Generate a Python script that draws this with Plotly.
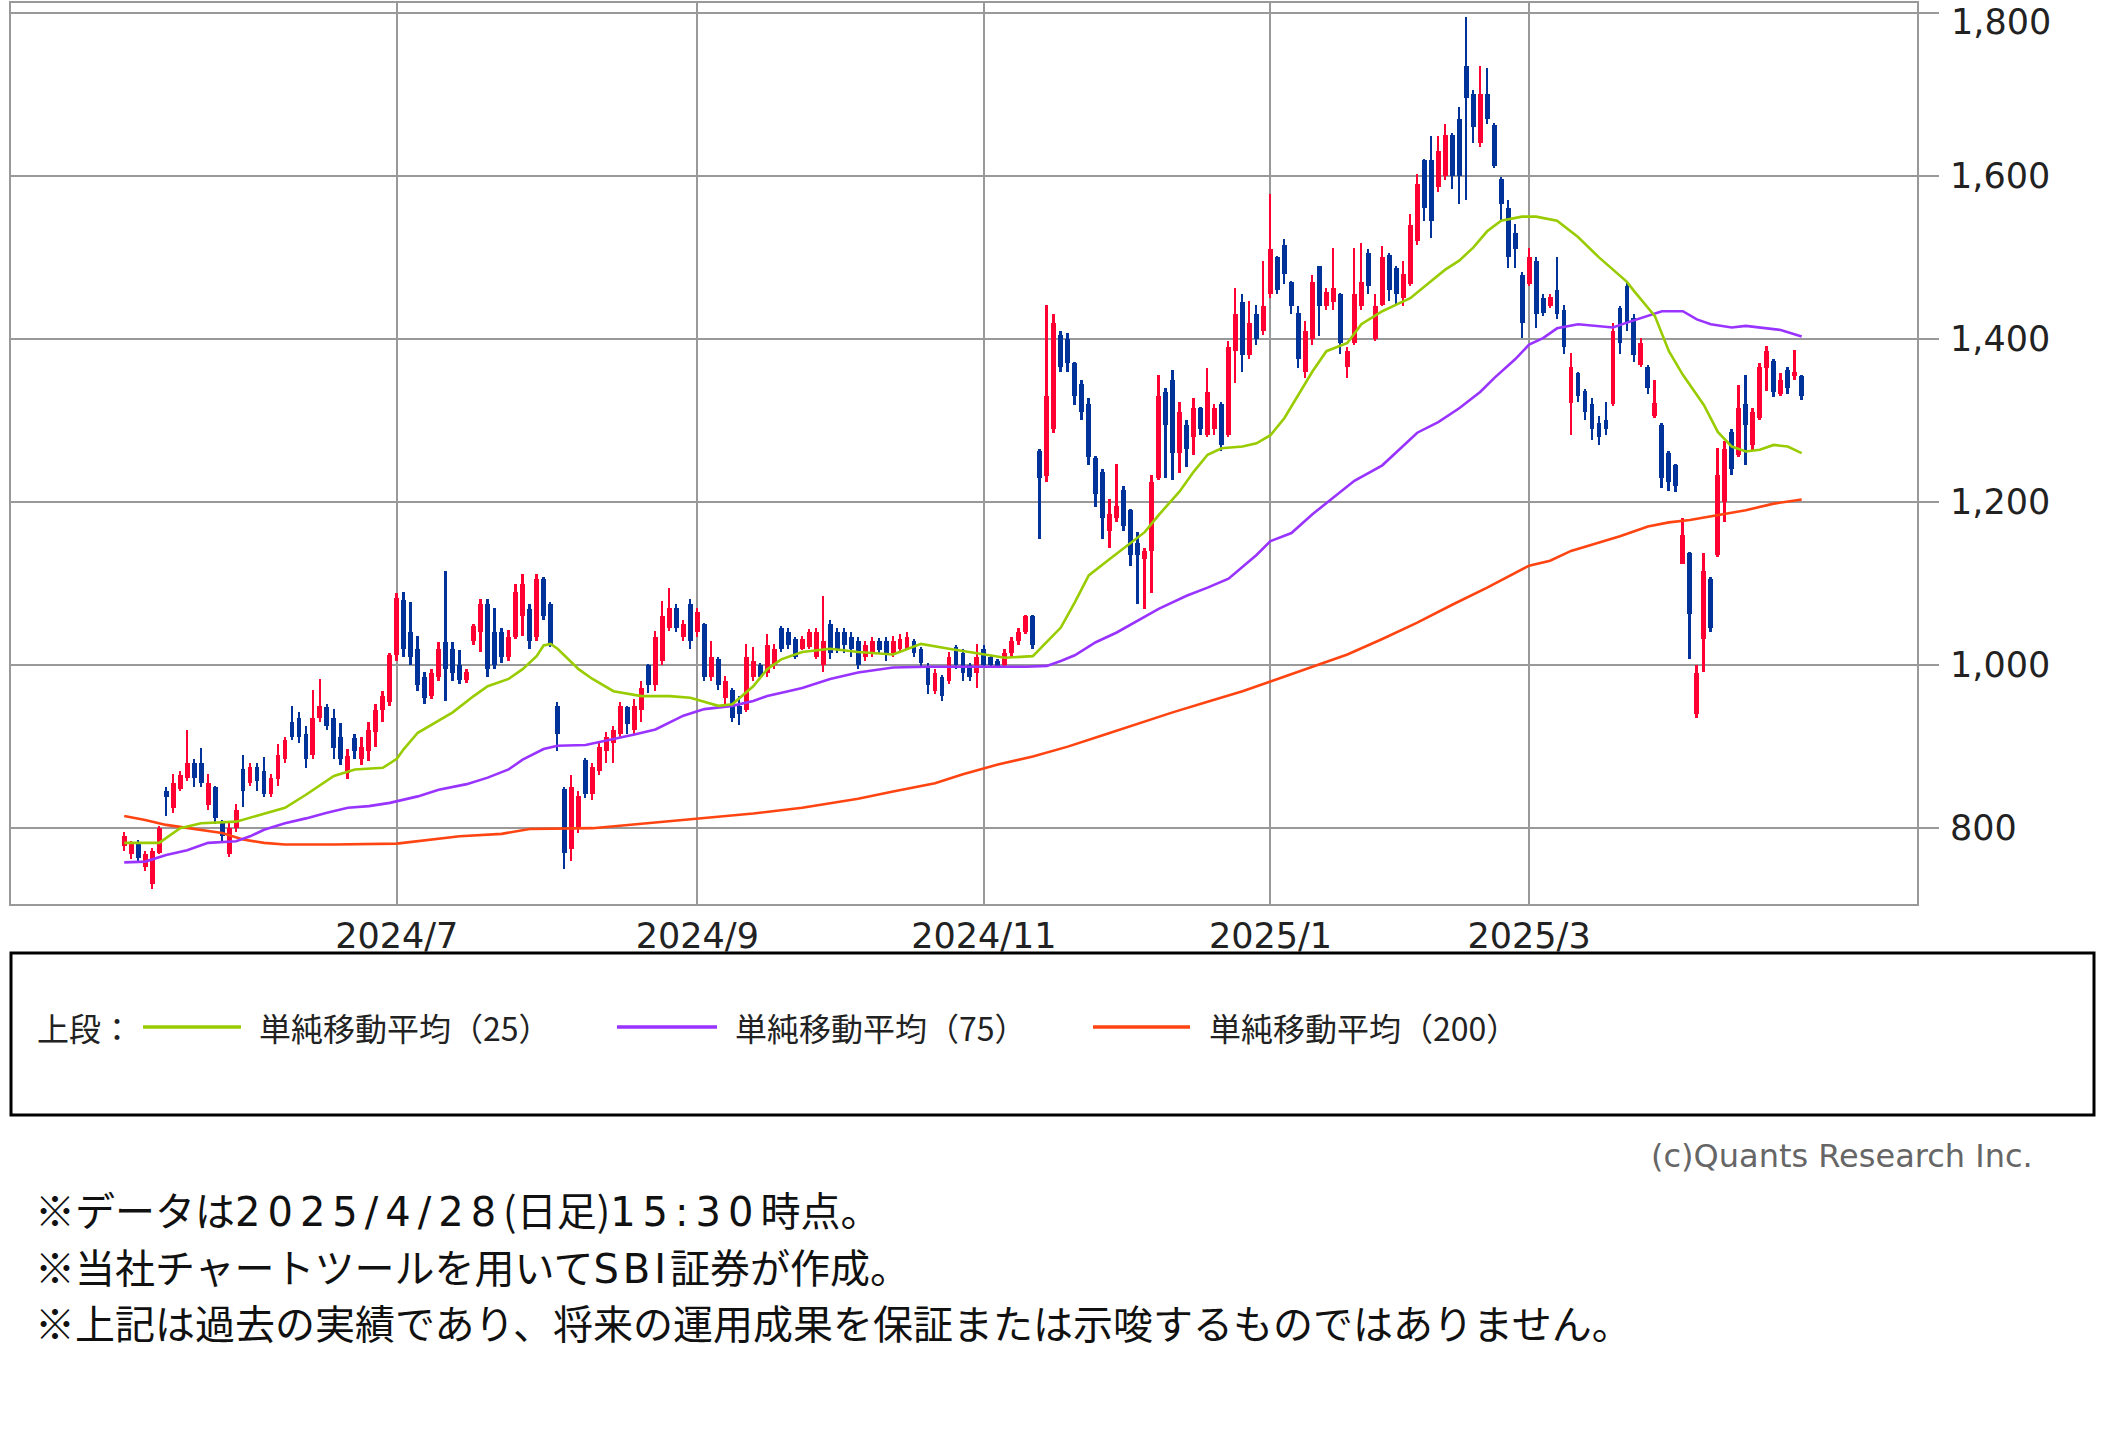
import pandas as pd
import plotly.graph_objects as go

# ---------------- data ----------------
HOLIDAYS = ["2024-07-15", "2024-08-12", "2024-09-16", "2024-09-23", "2024-10-14",
            "2024-11-04", "2024-12-31", "2025-01-01", "2025-01-02", "2025-01-03",
            "2025-01-13", "2025-02-11", "2025-02-24", "2025-03-20"]
START_DATE = "2024-05-07"
END_DATE = "2025-04-28"

TICK_MONTHS = ["2024-07", "2024-09", "2024-11", "2025-01", "2025-03"]
TICK_TEXT = ["2024/7", "2024/9", "2024/11", "2025/1", "2025/3"]
Y_TICKS = [800, 1000, 1200, 1400, 1600, 1800]

OPEN = [778, 768, 782, 752, 732, 770, 845, 825, 848, 862, 880, 880, 828, 850, 808, 768, 800, 872, 855, 875,
        870, 842, 860, 885, 930, 935, 915, 890, 935, 948, 935, 912, 868, 910, 885, 895, 918, 945, 955, 1012,
        1080, 1040, 1020, 985, 962, 985, 1028, 1020, 1000, 982, 1030, 1040, 1075, 1040, 1040, 1010, 1035, 1060, 1069, 1035,
        1106, 1075, 950, 848, 775, 800, 884, 842, 870, 895, 905, 915, 948, 920, 945, 1000, 975, 1005, 1045, 1070,
        1035, 1075, 1040, 1050, 985, 1007, 960, 970, 950, 945, 985, 1000, 990, 1000, 1046, 1040, 1032, 1020, 1022, 1010,
        1000, 1050, 1040, 1040, 1035, 1030, 1010, 1015, 1030, 1030, 1015, 1020, 1020, 1030, 1020, 999, 968, 985, 980, 1022,
        1015, 1000, 990, 1020, 1010, 1005, 1000, 1015, 1030, 1040, 1060, 1262, 1232, 1290, 1405, 1400, 1370, 1345, 1320, 1254,
        1237, 1165, 1180, 1215, 1190, 1150, 1130, 1140, 1230, 1335, 1350, 1260, 1295, 1280, 1315, 1282, 1290, 1320, 1282, 1385,
        1445, 1380, 1430, 1410, 1455, 1500, 1515, 1470, 1432, 1360, 1400, 1489, 1440, 1445, 1455, 1365, 1395, 1440, 1506, 1400,
        1442, 1503, 1487, 1450, 1467, 1520, 1620, 1620, 1586, 1600, 1650, 1670, 1735, 1700, 1640, 1700, 1662, 1596, 1560, 1530,
        1479, 1467, 1495, 1450, 1440, 1460, 1435, 1322, 1358, 1336, 1320, 1297, 1300, 1320, 1438, 1465, 1426, 1368, 1366, 1305,
        1295, 1260, 1245, 1124, 1137, 940, 1032, 1106, 1135, 1200, 1286, 1258, 1320, 1270, 1303, 1364, 1373, 1332, 1362, 1354,
        1354]
HIGH = [795, 784, 786, 772, 776, 803, 850, 866, 870, 920, 885, 898, 866, 852, 810, 806, 830, 890, 880, 880,
        887, 866, 903, 912, 950, 942, 925, 970, 983, 952, 946, 929, 897, 915, 912, 930, 952, 968, 1015, 1088,
        1090, 1077, 1036, 991, 995, 1028, 1116, 1028, 1019, 995, 1050, 1081, 1081, 1070, 1046, 1043, 1100, 1112, 1075, 1112,
        1108, 1077, 955, 850, 865, 845, 886, 880, 905, 918, 925, 955, 950, 958, 980, 1001, 1042, 1078, 1094, 1075,
        1055, 1081, 1070, 1052, 1030, 1010, 987, 972, 962, 1026, 1022, 1002, 1038, 1026, 1048, 1046, 1034, 1036, 1044, 1046,
        1085, 1055, 1045, 1045, 1040, 1035, 1030, 1035, 1033, 1035, 1036, 1038, 1040, 1032, 1022, 1002, 995, 988, 1016, 1025,
        1020, 1003, 1026, 1025, 1012, 1008, 1020, 1035, 1045, 1062, 1062, 1265, 1442, 1430, 1410, 1407, 1372, 1350, 1328, 1256,
        1240, 1204, 1247, 1220, 1192, 1163, 1143, 1233, 1356, 1340, 1362, 1323, 1300, 1327, 1317, 1364, 1320, 1323, 1397, 1463,
        1455, 1446, 1442, 1496, 1578, 1502, 1522, 1471, 1440, 1422, 1479, 1490, 1462, 1512, 1456, 1390, 1512, 1518, 1510, 1455,
        1514, 1505, 1490, 1495, 1553, 1602, 1621, 1649, 1649, 1664, 1652, 1684, 1795, 1705, 1735, 1732, 1665, 1598, 1571, 1541,
        1482, 1512, 1500, 1455, 1455, 1500, 1442, 1383, 1360, 1338, 1327, 1305, 1323, 1420, 1440, 1469, 1430, 1401, 1368, 1350,
        1297, 1262, 1247, 1180, 1139, 1000, 1137, 1108, 1266, 1275, 1290, 1344, 1356, 1315, 1370, 1391, 1375, 1358, 1365, 1387,
        1356]
LOW = [772, 762, 758, 748, 726, 768, 815, 818, 845, 858, 850, 850, 822, 805, 784, 765, 795, 826, 852, 845,
       838, 838, 852, 880, 908, 905, 874, 885, 930, 920, 885, 878, 860, 885, 878, 882, 900, 930, 950, 1005,
       1010, 1000, 968, 952, 958, 980, 956, 980, 977, 978, 1025, 1016, 985, 995, 1003, 1005, 1032, 1036, 1020, 1030,
       1055, 1022, 895, 750, 760, 794, 837, 835, 865, 880, 880, 910, 915, 915, 930, 966, 968, 1000, 1042, 1040,
       1030, 1020, 1035, 981, 980, 970, 948, 930, 927, 942, 980, 983, 985, 995, 1016, 1020, 1007, 1018, 1020, 1007,
       991, 1007, 1015, 1015, 1010, 995, 1005, 1010, 1015, 1005, 1010, 1015, 1018, 1010, 998, 964, 965, 956, 977, 995,
       980, 980, 972, 996, 996, 996, 998, 1010, 1025, 1038, 1020, 1155, 1225, 1285, 1360, 1360, 1319, 1300, 1245, 1194,
       1155, 1143, 1175, 1165, 1122, 1075, 1069, 1089, 1227, 1229, 1227, 1235, 1243, 1258, 1282, 1280, 1282, 1262, 1280, 1346,
       1360, 1375, 1393, 1405, 1450, 1455, 1467, 1430, 1364, 1352, 1393, 1403, 1435, 1436, 1381, 1352, 1393, 1435, 1455, 1397,
       1440, 1446, 1442, 1440, 1465, 1515, 1545, 1524, 1580, 1595, 1584, 1565, 1571, 1640, 1635, 1664, 1610, 1545, 1487, 1487,
       1401, 1465, 1414, 1428, 1438, 1424, 1381, 1282, 1323, 1300, 1276, 1270, 1282, 1318, 1381, 1410, 1372, 1365, 1332, 1303,
       1217, 1214, 1212, 1124, 1007, 935, 992, 1040, 1133, 1175, 1233, 1255, 1245, 1262, 1300, 1336, 1329, 1330, 1333, 1350,
       1325]
CLOSE = [790, 780, 764, 768, 772, 800, 838, 855, 865, 880, 862, 856, 855, 812, 790, 800, 822, 845, 875, 858,
         842, 862, 890, 908, 912, 912, 885, 935, 950, 925, 898, 885, 888, 895, 900, 920, 945, 962, 1012, 1082,
         1020, 1010, 975, 960, 990, 1020, 995, 990, 982, 991, 1048, 1075, 995, 1000, 1010, 1035, 1090, 1100, 1030, 1105,
         1060, 1025, 915, 770, 850, 840, 842, 875, 900, 912, 920, 950, 928, 950, 972, 975, 1035, 1060, 1070, 1045,
         1050, 1030, 1065, 985, 1010, 975, 980, 935, 940, 1010, 1005, 985, 1025, 1020, 1020, 1025, 1010, 1032, 1040, 1040,
         1030, 1015, 1020, 1025, 1020, 1000, 1025, 1030, 1018, 1012, 1030, 1032, 1035, 1015, 1002, 975, 990, 962, 1010, 1000,
         990, 985, 1010, 1000, 1000, 999, 1015, 1030, 1040, 1060, 1025, 1230, 1330, 1420, 1365, 1370, 1330, 1310, 1255, 1210,
         1180, 1185, 1195, 1170, 1135, 1135, 1140, 1225, 1330, 1295, 1260, 1310, 1265, 1315, 1290, 1335, 1315, 1270, 1390, 1430,
         1380, 1420, 1400, 1440, 1510, 1460, 1480, 1440, 1375, 1410, 1470, 1440, 1458, 1462, 1395, 1385, 1455, 1470, 1465, 1440,
         1500, 1460, 1455, 1480, 1540, 1590, 1560, 1545, 1630, 1650, 1600, 1600, 1695, 1660, 1700, 1670, 1612, 1565, 1500, 1510,
         1420, 1500, 1430, 1432, 1452, 1430, 1390, 1365, 1330, 1310, 1290, 1280, 1290, 1410, 1395, 1420, 1380, 1395, 1340, 1322,
         1230, 1225, 1220, 1160, 1063, 990, 1115, 1045, 1233, 1265, 1240, 1315, 1295, 1310, 1365, 1385, 1335, 1350, 1340, 1360,
         1330]

# moving averages: (trading-day index, value)
MA25_IDX = [0, 5, 8, 11, 16, 19, 23, 26, 30, 33, 37, 39, 40, 42, 44, 47, 50, 52, 55, 57, 59, 60, 61, 62, 65, 67,
            70, 74, 78, 81, 85, 87, 90, 92, 94, 97, 101, 105, 110, 114, 118, 123, 126, 130, 131, 134, 136, 138,
            141, 143, 146, 148, 151, 153, 155, 157, 160, 162, 164, 166, 168, 170, 172, 175, 177, 180, 182, 184,
            187, 189, 191, 193, 195, 197, 200, 202, 205, 208, 211, 215, 216, 219, 221, 223, 226, 228, 230, 232,
            234, 236, 238, 240]
MA25_VAL = [782, 782, 800, 806, 808, 815, 825, 841, 864, 872, 874, 885, 897, 917, 927, 942, 962, 974, 983, 995,
            1011, 1024, 1026, 1020, 995, 983, 968, 962, 962, 960, 950, 952, 974, 995, 1007, 1016, 1020, 1016, 1013,
            1026, 1020, 1013, 1009, 1011, 1020, 1046, 1077, 1110, 1130, 1143, 1163, 1184, 1213, 1237, 1258, 1266,
            1268, 1272, 1282, 1303, 1332, 1360, 1385, 1395, 1418, 1434, 1442, 1450, 1471, 1485, 1496, 1512, 1532,
            1545, 1550, 1550, 1545, 1525, 1500, 1470, 1459, 1428, 1385, 1356, 1319, 1286, 1268, 1262, 1264, 1270,
            1268, 1260]
MA75_IDX = [0, 3, 6, 9, 12, 16, 18, 20, 23, 26, 29, 32, 35, 38, 42, 45, 49, 52, 55, 57, 60, 62, 66, 71, 73, 76,
            78, 80, 83, 85, 87, 90, 92, 95, 97, 101, 105, 110, 115, 122, 129, 132, 134, 136, 139, 142, 146, 148,
            152, 155, 158, 162, 164, 167, 170, 173, 176, 180, 185, 188, 191, 194, 196, 199, 201, 203, 205, 208,
            213, 215, 218, 220, 223, 225, 227, 230, 232, 234, 237, 240]
MA75_VAL = [758, 759, 767, 773, 782, 784, 790, 798, 806, 812, 819, 825, 827, 831, 839, 847, 854, 862, 872, 884,
            897, 901, 902, 911, 915, 921, 929, 938, 946, 948, 950, 956, 962, 968, 972, 983, 991, 997, 998, 998,
            998, 999, 1005, 1012, 1028, 1040, 1059, 1069, 1085, 1095, 1106, 1135, 1152, 1162, 1185, 1205, 1226,
            1245, 1285, 1298, 1315, 1335, 1352, 1375, 1393, 1401, 1413, 1418, 1414, 1420, 1428, 1434, 1434, 1424,
            1418, 1414, 1416, 1414, 1411, 1403]
MA200_IDX = [0, 3, 6, 11, 14, 17, 20, 23, 30, 39, 42, 48, 54, 58, 67, 75, 82, 90, 97, 105, 110, 116, 120, 125,
             130, 135, 140, 145, 150, 155, 160, 164, 170, 175, 180, 185, 190, 195, 201, 204, 207, 211, 214, 218,
             221, 224, 228, 232, 236, 240]
MA200_VAL = [815, 810, 804, 798, 794, 786, 782, 780, 780, 781, 784, 790, 793, 799, 800, 806, 812, 818, 825, 836,
             845, 855, 866, 878, 888, 900, 914, 928, 942, 955, 968, 980, 998, 1013, 1032, 1052, 1074, 1095, 1122,
             1128, 1140, 1150, 1158, 1170, 1175, 1178, 1184, 1190, 1198, 1203]

LEGEND_LABELS = ["単純移動平均（25）", "単純移動平均（75）", "単純移動平均（200）"]
SP7 = "<span style='font-family:DejaVu Sans;letter-spacing:7px'>"
SP3 = "<span style='font-family:DejaVu Sans;letter-spacing:4px'>"
NOTES = ["※データは" + SP7 + "2025/4/28</span>(日足)" + SP7 + "15:30</span>時点。",
         "※当社チャートツールを用いて" + SP3 + "SBI</span>証券が作成。",
         "※上記は過去の実績であり、将来の運用成果を保証または示唆するものではありません。"]

# ---------------- build ----------------
days = pd.bdate_range(START_DATE, END_DATE, freq="C", holidays=HOLIDAYS)
dates = [d.strftime("%Y-%m-%d") for d in days]
assert len(dates) == len(OPEN) == len(HIGH) == len(LOW) == len(CLOSE), (len(dates), len(OPEN))

tick_vals = [next(d for d in dates if d.startswith(m)) for m in TICK_MONTHS]

UP = "#FF0033"
DOWN = "#003399"
C25, C75, C200 = "#99CC00", "#9933FF", "#FF4411"
GRID = "#999999"
FONT_TICK = "DejaVu Sans, Noto Sans CJK JP"
FONT_JP = "Noto Sans CJK JP"

colors = [UP if c >= o else DOWN for o, c in zip(OPEN, CLOSE)]

fig = go.Figure()
fig.add_trace(go.Bar(x=dates, y=[h - l for h, l in zip(HIGH, LOW)], base=LOW, width=0.26,
                     marker=dict(color=colors, line=dict(width=0)), showlegend=False, hoverinfo="skip"))
fig.add_trace(go.Bar(x=dates, y=[c - o for o, c in zip(OPEN, CLOSE)], base=OPEN, width=0.7,
                     marker=dict(color=colors, line=dict(width=0)), showlegend=False,
                     customdata=list(zip(OPEN, HIGH, LOW, CLOSE))))

for idx, val, col in [(MA200_IDX, MA200_VAL, C200), (MA75_IDX, MA75_VAL, C75), (MA25_IDX, MA25_VAL, C25)]:
    fig.add_trace(go.Scatter(x=[dates[i] for i in idx], y=val, mode="lines",
                             line=dict(color=col, width=2.6), showlegend=False, hoverinfo="skip"))

W, H = 2102, 1430
L, R, T, B = 11, 1917, 3, 904
def px(X):
    return (X - L) / (R - L)
def py(Y):
    return (B - Y) / (B - T)

fig.update_layout(
    width=W, height=H,
    margin=dict(l=L, r=W - R, t=T, b=H - B, pad=0, autoexpand=False),
    paper_bgcolor="white", plot_bgcolor="white",
    barmode="overlay", bargap=0,
    showlegend=False,
    font=dict(family=FONT_TICK, color="#222222"),
)
fig.update_xaxes(type="category", categoryorder="array", categoryarray=dates,
                 range=[-16.2, 256.5], tickvals=tick_vals, ticktext=TICK_TEXT,
                 showgrid=True, gridcolor=GRID, gridwidth=2,
                 showline=True, linecolor=GRID, linewidth=2, mirror=True,
                 ticks="", tickfont=dict(size=35, family=FONT_TICK, color="#222222"),
                 zeroline=False, fixedrange=True, automargin=False)
# the top tick's label is placed as an annotation so that it stays inside the page
fig.update_yaxes(side="right", range=[707, 1812], tickvals=Y_TICKS,
                 ticktext=[f"{v:,}" if v != Y_TICKS[-1] else "" for v in Y_TICKS],
                 showgrid=True, gridcolor=GRID, gridwidth=2,
                 showline=True, linecolor=GRID, linewidth=2, mirror=True,
                 ticks="outside", ticklen=20, tickwidth=2, tickcolor=GRID,
                 ticklabelstandoff=4, ticklabeloverflow="allow",
                 tickfont=dict(size=35, family=FONT_TICK, color="#222222"),
                 zeroline=False, fixedrange=True, automargin=False)

shapes = []
# legend box
shapes.append(dict(type="rect", xref="paper", yref="paper",
                   x0=px(11), x1=px(2094), y0=py(953), y1=py(1115),
                   line=dict(color="black", width=3), fillcolor="rgba(0,0,0,0)"))
ly = py(1027)
for (x0, x1), col in zip([(143, 241), (617, 717), (1093, 1190)], [C25, C75, C200]):
    shapes.append(dict(type="line", xref="paper", yref="paper", x0=px(x0), x1=px(x1), y0=ly, y1=ly,
                       line=dict(color=col, width=3.5)))
fig.update_layout(shapes=shapes)

ann = []
ann.append(dict(xref="paper", yref="y", x=px(1950), y=Y_TICKS[-1], text=f"{Y_TICKS[-1]:,}",
                showarrow=False, xanchor="left", yanchor="top", yshift=12, borderpad=0,
                font=dict(size=35, family=FONT_TICK, color="#222222")))
ann.append(dict(xref="paper", yref="paper", x=px(35), y=ly, text="上段：", showarrow=False,
                xanchor="left", yanchor="middle", font=dict(size=32, family=FONT_JP, color="#222222")))
for xl, lab in zip([257, 733, 1207], LEGEND_LABELS):
    ann.append(dict(xref="paper", yref="paper", x=px(xl), y=ly, text=lab, showarrow=False,
                    xanchor="left", yanchor="middle", font=dict(size=32, family=FONT_JP, color="#222222")))
ann.append(dict(xref="paper", yref="paper", x=px(2035), y=py(1156), text="(c)Quants Research Inc.",
                showarrow=False, xanchor="right", yanchor="middle",
                font=dict(size=32, family="DejaVu Sans", color="#666666")))
for yv, note in zip([1209, 1266, 1322], NOTES):
    ann.append(dict(xref="paper", yref="paper", x=px(33), y=py(yv), text=note, showarrow=False,
                    xanchor="left", yanchor="middle", font=dict(size=40, family=FONT_JP, color="#111111")))
fig.update_layout(annotations=ann)

fig.write_html("out.html", config={"displayModeBar": False},
               post_script="document.body.style.margin='0px';document.body.style.overflow='hidden';")
